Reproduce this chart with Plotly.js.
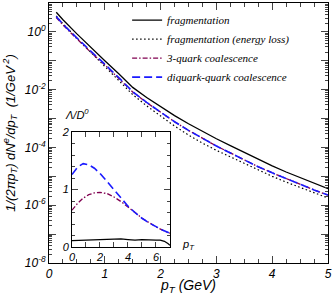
<!DOCTYPE html>
<html>
<head>
<meta charset="utf-8">
<script src="https://cdn.plot.ly/plotly-3.0.1.min.js"></script>
<style>html,body{margin:0;padding:0;background:#fff}</style>
</head>
<body>
<div id="chart" style="width:332px;height:295px"></div>
<script>
// Main panel: electron spectra vs pT (GeV)
const pT = [0.13,0.25,0.5,0.75,1.0,1.25,1.5,1.75,2.0,2.25,2.5,2.75,3.0,3.25,3.5,3.75,4.0,4.25,4.5,4.75,5.0];
const fragmentation = [4.79,2.63,0.851,0.282,0.100,0.0355,0.0120,5.37e-3,2.57e-3,1.26e-3,6.61e-4,3.55e-4,2.00e-4,1.15e-4,6.61e-5,3.80e-5,2.29e-5,1.41e-5,8.91e-6,5.62e-6,3.72e-6];
const fragEnergyLoss = [3.55,1.91,0.603,0.195,0.0661,0.0219,6.76e-3,2.75e-3,1.20e-3,5.50e-4,2.69e-4,1.41e-4,7.94e-5,4.68e-5,2.82e-5,1.66e-5,1.00e-5,6.31e-6,4.07e-6,2.63e-6,1.78e-6];
const threeQuark = [3.16,1.74,0.575,0.195,0.0724,0.0251,8.32e-3,3.55e-3,1.62e-3,7.76e-4,3.89e-4,2.04e-4,1.12e-4,6.46e-5,3.72e-5,2.14e-5,1.32e-5,8.32e-6,5.25e-6,3.39e-6,2.24e-6];
const diquarkQuark = [3.39,1.86,0.617,0.209,0.0759,0.0263,8.51e-3,3.63e-3,1.66e-3,7.76e-4,3.89e-4,2.04e-4,1.12e-4,6.46e-5,3.72e-5,2.14e-5,1.32e-5,8.32e-6,5.25e-6,3.39e-6,2.24e-6];

// Inset: Lambda/D0 ratio vs pT
const insetPt = [0,0.4,0.8,1.2,1.6,2.0,2.5,3.0,3.5,4.0,4.5,5.0,5.5,6.0,6.5,7.0];
const insetDiquark = [1.26,1.39,1.45,1.43,1.37,1.28,1.14,0.99,0.84,0.71,0.60,0.50,0.42,0.35,0.29,0.24];
const insetThreeQuark = [0.64,0.76,0.85,0.91,0.94,0.95,0.93,0.87,0.79,0.70,0.60,0.50,0.42,0.35,0.29,0.24];
const insetFragPt = [0,0.5,1,1.5,2,2.5,3,3.5,4,4.5,5,5.5,6,6.3,6.6,6.85,7.0];
const insetFrag = [0.11,0.115,0.12,0.12,0.12,0.125,0.13,0.14,0.13,0.12,0.13,0.12,0.12,0.12,0.10,0.06,0.03];

const names = ['fragmentation','fragmentation (energy loss)','3-quark coalescence','diquark-quark coalescence'];
const yTickVals = [1e-8,1e-7,1e-6,1e-5,1e-4,1e-3,1e-2,1e-1,1e0,1e1];
const yTickText = ['10<sup>-8</sup>','','10<sup>-6</sup>','','10<sup>-4</sup>','','10<sup>-2</sup>','','10<sup>0</sup>',''];
const yMinor = [];
for (let e = -8; e < 1; e++) for (let m = 2; m <= 9; m++) yMinor.push(m * Math.pow(10, e));

const sans = 'Liberation Sans, Arial, sans-serif';
const serif = 'Liberation Serif, Times New Roman, serif';

const traces = [
  {x: pT, y: fragmentation, name: names[0], mode: 'lines', line: {color: '#000', width: 1.3}},
  {x: pT, y: fragEnergyLoss, name: names[1], mode: 'lines', line: {color: '#000', width: 1.2, dash: '1.5px,2.5px'}},
  {x: pT, y: threeQuark, name: names[2], mode: 'lines', line: {color: '#800050', width: 1.3, dash: '5px,2px,1.5px,2px'}},
  {x: pT, y: diquarkQuark, name: names[3], mode: 'lines', line: {color: '#1a1aff', width: 1.6, dash: '8px,4px'}},
  {x: insetFragPt, y: insetFrag, xaxis: 'x2', yaxis: 'y2', mode: 'lines', showlegend: false, line: {color: '#000', width: 1.3}},
  {x: insetPt, y: insetThreeQuark, xaxis: 'x2', yaxis: 'y2', mode: 'lines', showlegend: false, line: {color: '#800050', width: 1.3, dash: '5px,2px,1.5px,2px'}},
  {x: insetPt, y: insetDiquark, xaxis: 'x2', yaxis: 'y2', mode: 'lines', showlegend: false, line: {color: '#1a1aff', width: 1.6, dash: '8px,4px'}}
];

const layout = {
  width: 332, height: 295,
  margin: {l: 49, r: 4, t: 3, b: 32},
  paper_bgcolor: '#fff', plot_bgcolor: '#fff',
  font: {family: sans, color: '#000', size: 12},
  showlegend: true,
  legend: {x: 0.28, y: 0.99, xanchor: 'left', yanchor: 'top', bgcolor: 'rgba(0,0,0,0)',
           font: {family: serif, size: 11, style: 'italic'}, tracegroupgap: 0},
  xaxis: {range: [0, 5], dtick: 1, ticks: 'inside', ticklen: 7, mirror: 'allticks', showline: true, linecolor: '#000', linewidth: 1,
          showgrid: false, zeroline: false, tickfont: {size: 12, style: 'italic'},
          minor: {dtick: 0.25, ticks: 'inside', ticklen: 4},
          title: {text: 'p<sub>T</sub> (GeV)', font: {size: 14, style: 'italic'}, standoff: 4}},
  yaxis: {type: 'log', range: [-8, 1], tickmode: 'array', tickvals: yTickVals, ticktext: yTickText,
          ticks: 'inside', ticklen: 7, mirror: 'allticks', showline: true, linecolor: '#000', linewidth: 1,
          showgrid: false, zeroline: false, tickfont: {size: 12, style: 'italic'},
          minor: {tickmode: 'array', tickvals: yMinor, ticks: 'inside', ticklen: 3},
          title: {text: '1/(2πp<sub>T</sub>) dN<sup>e</sup>/dp<sub>T</sub>  (1/GeV<sup> 2</sup>)', font: {size: 13, style: 'italic'}, standoff: 6}},
  xaxis2: {domain: [0.0824, 0.4337], anchor: 'y2', range: [0, 7], tickmode: 'array', tickvals: [0,1,2,3,4,5,6,7], ticktext: ['0','','2','','4','','6',''],
           ticks: 'inside', ticklen: 5, mirror: 'allticks', showline: true, linecolor: '#000', linewidth: 1,
           showgrid: false, zeroline: false, tickfont: {size: 11, style: 'italic'}},
  yaxis2: {domain: [0.0615, 0.5038], anchor: 'x2', range: [0, 2], tickmode: 'array', tickvals: [0,1,2], ticktext: ['0','1','2'],
           ticks: 'inside', ticklen: 6, mirror: 'allticks', showline: true, linecolor: '#000', linewidth: 1,
           showgrid: false, zeroline: false, tickfont: {size: 11, style: 'italic'},
           minor: {dtick: 0.2, ticks: 'inside', ticklen: 3}},
  annotations: [
    {text: 'Λ/D<sup>0</sup>', xref: 'paper', yref: 'paper', x: 0.05, y: 0.575, xanchor: 'left', yanchor: 'middle', showarrow: false,
     font: {size: 11, style: 'italic'}},
    {text: 'p<sub>T</sub>', xref: 'paper', yref: 'paper', x: 0.47, y: 0.07, xanchor: 'left', yanchor: 'middle', showarrow: false,
     font: {size: 11, style: 'italic'}}
  ]
};

Plotly.newPlot('chart', traces, layout, {displayModeBar: false, staticPlot: true});
</script>
</body>
</html>
